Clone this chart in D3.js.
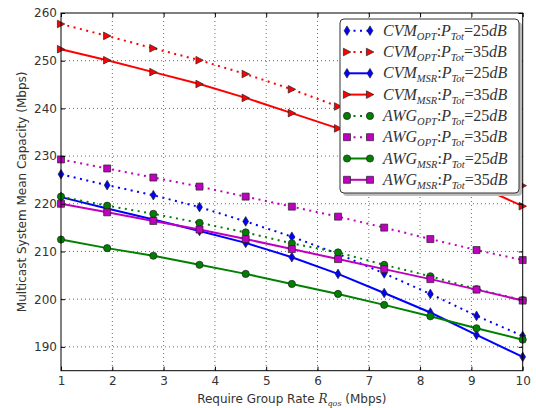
<!DOCTYPE html>
<html>
<head>
<meta charset="utf-8">
<script src="https://cdn.jsdelivr.net/npm/d3@7"></script>
<style>
  html, body { margin: 0; padding: 0; background: #fff; }
  svg { display: block; }
</style>
</head>
<body>
<svg id="chart" width="536" height="408"></svg>
<script>
// Required group rate (Mbps) sampled on the x axis
const rates = [1, 1.9, 2.8, 3.7, 4.6, 5.5, 6.4, 7.3, 8.2, 9.1, 10];

// Mean multicast capacity (Mbps) per scheme
const cvmOpt25 = [226.2, 223.9, 221.8, 219.3, 216.3, 213.1, 209.5, 205.4, 201.1, 196.5, 192.3];
const cvmOpt35 = [257.7, 255.2, 252.6, 250.1, 247.2, 244.0, 240.4, 236.4, 232.3, 228.1, 223.8];
const cvmMsr25 = [221.4, 219.0, 216.7, 214.3, 211.8, 208.8, 205.3, 201.3, 197.2, 192.5, 187.9];
const cvmMsr35 = [252.4, 250.1, 247.6, 245.1, 242.2, 239.0, 235.8, 232.0, 228.0, 223.9, 219.5];
const awgOpt25 = [221.5, 219.6, 217.9, 216.0, 214.0, 211.7, 209.8, 207.2, 204.8, 202.1, 199.8];
const awgOpt35 = [229.3, 227.4, 225.5, 223.6, 221.5, 219.4, 217.3, 215.0, 212.6, 210.3, 208.2];
const awgMsr25 = [212.5, 210.7, 209.1, 207.2, 205.3, 203.2, 201.1, 198.8, 196.4, 193.9, 191.5];
const awgMsr35 = [220.0, 218.2, 216.4, 214.6, 212.6, 210.5, 208.4, 206.3, 204.2, 202.0, 199.7];

const xTicks = [1, 2, 3, 4, 5, 6, 7, 8, 9, 10];
const yTicks = [190, 200, 210, 220, 230, 240, 250, 260];

// Legend label parts: scheme, subscript, power
const series = [
  { values: cvmOpt25, name: "CVM", sub: "OPT", power: "25", color: "#0000ff", dotted: true,  marker: "diamond" },
  { values: cvmOpt35, name: "CVM", sub: "OPT", power: "35", color: "#ff0000", dotted: true,  marker: "triangle" },
  { values: cvmMsr25, name: "CVM", sub: "MSR", power: "25", color: "#0000ff", dotted: false, marker: "diamond" },
  { values: cvmMsr35, name: "CVM", sub: "MSR", power: "35", color: "#ff0000", dotted: false, marker: "triangle" },
  { values: awgOpt25, name: "AWG", sub: "OPT", power: "25", color: "#008000", dotted: true,  marker: "circle" },
  { values: awgOpt35, name: "AWG", sub: "OPT", power: "35", color: "#bf00bf", dotted: true,  marker: "square" },
  { values: awgMsr25, name: "AWG", sub: "MSR", power: "25", color: "#008000", dotted: false, marker: "circle" },
  { values: awgMsr35, name: "AWG", sub: "MSR", power: "35", color: "#bf00bf", dotted: false, marker: "square" }
];

(function draw() {
  const svg = d3.select("#chart");
  const pl = 61, pr = 522.7, pt = 13, pb = 370.7;

  const x = d3.scaleLinear().domain([1, 10]).range([pl, pr]);
  const y = d3.scaleLinear().domain([185, 260]).range([pb, pt]);

  const textColor = "#333";

  // Grid
  const grid = svg.append("g");
  grid.selectAll("line.gx").data(xTicks.slice(1, -1)).join("line")
    .attr("class", "gx")
    .attr("x1", d => x(d)).attr("x2", d => x(d))
    .attr("y1", pt).attr("y2", pb)
    .attr("stroke", "#000").attr("stroke-width", 0.6).attr("stroke-dasharray", "1,3");
  grid.selectAll("line.gy").data(yTicks.filter(d => d < 260)).join("line")
    .attr("class", "gy")
    .attr("x1", pl).attr("x2", pr)
    .attr("y1", d => y(d)).attr("y2", d => y(d))
    .attr("stroke", "#000").attr("stroke-width", 0.6).attr("stroke-dasharray", "1,3");

  // Marker shapes
  function markerPath(kind) {
    switch (kind) {
      case "diamond":  return "M0,-4.8L2.9,0L0,4.8L-2.9,0Z";
      case "triangle": return "M3.8,0L-3.6,-3.8L-3.6,3.8Z";
      case "square":   return "M-3.5,-3.5H3.5V3.5H-3.5Z";
      default:         return d3.symbol(d3.symbolCircle, Math.PI * 3.6 * 3.6)();
    }
  }

  const line = d3.line().x(d => x(d[0])).y(d => y(d[1]));

  const plot = svg.append("g");
  series.forEach(s => {
    const pts = rates.map((r, i) => [r, s.values[i]]);
    const g = plot.append("g");
    g.append("path").datum(pts)
      .attr("d", line)
      .attr("fill", "none")
      .attr("stroke", s.color)
      .attr("stroke-width", 2)
      .attr("stroke-dasharray", s.dotted ? "2,4.5" : null);
    g.selectAll("path.m").data(pts).join("path")
      .attr("class", "m")
      .attr("d", markerPath(s.marker))
      .attr("transform", d => `translate(${x(d[0])},${y(d[1])})`)
      .attr("fill", s.color)
      .attr("stroke", "#222")
      .attr("stroke-width", 0.7);
  });

  // Frame and inward ticks on all four sides
  svg.append("rect")
    .attr("x", pl).attr("y", pt)
    .attr("width", pr - pl).attr("height", pb - pt)
    .attr("fill", "none").attr("stroke", "#000").attr("stroke-width", 1);

  const xAxisB = d3.axisBottom(x).tickValues(xTicks).tickSizeInner(-4).tickSizeOuter(0).tickPadding(6);
  const xAxisT = d3.axisTop(x).tickValues(xTicks).tickSizeInner(-4).tickSizeOuter(0).tickFormat("");
  const yAxisL = d3.axisLeft(y).tickValues(yTicks).tickSizeInner(-4).tickSizeOuter(0).tickPadding(4);
  const yAxisR = d3.axisRight(y).tickValues(yTicks).tickSizeInner(-4).tickSizeOuter(0).tickFormat("");

  function styleAxis(g) {
    g.select(".domain").remove();
    g.selectAll(".tick line").attr("stroke", "#000").attr("stroke-width", 1);
    g.selectAll(".tick text")
      .attr("fill", textColor)
      .style("font-family", "'DejaVu Sans', sans-serif")
      .style("font-size", "12px");
  }
  svg.append("g").attr("transform", `translate(0,${pb})`).call(xAxisB).call(styleAxis);
  svg.append("g").attr("transform", `translate(0,${pt})`).call(xAxisT).call(styleAxis);
  svg.append("g").attr("transform", `translate(${pl},0)`).call(yAxisL).call(styleAxis);
  svg.append("g").attr("transform", `translate(${pr},0)`).call(yAxisR).call(styleAxis);

  // Axis titles
  const xl = svg.append("text")
    .attr("x", (pl + pr) / 2).attr("y", 403)
    .attr("text-anchor", "middle")
    .attr("fill", textColor)
    .style("font-family", "'DejaVu Sans', sans-serif")
    .style("font-size", "12px");
  xl.append("tspan").text("Require Group Rate ");
  xl.append("tspan").text("R").style("font-family", "'DejaVu Serif', serif").style("font-style", "italic");
  xl.append("tspan").text("qos").attr("dy", 3).style("font-size", "8px")
    .style("font-family", "'DejaVu Serif', serif").style("font-style", "italic");
  xl.append("tspan").text(" (Mbps)").attr("dy", -3);

  svg.append("text")
    .attr("transform", `translate(26,${(pt + pb) / 2}) rotate(-90)`)
    .attr("text-anchor", "middle")
    .attr("fill", textColor)
    .style("font-family", "'DejaVu Sans', sans-serif")
    .style("font-size", "12px")
    .text("Multicast System Mean Capacity (Mbps)");

  // Legend
  const lg = svg.append("g");
  const lx = 340, ly = 19, lw = 179, lh = 174;
  lg.append("rect").attr("x", lx + 3).attr("y", ly + 3).attr("width", lw).attr("height", lh)
    .attr("rx", 4).attr("fill", "#bdbdbd");
  lg.append("rect").attr("x", lx).attr("y", ly).attr("width", lw).attr("height", lh)
    .attr("rx", 4).attr("fill", "#fff").attr("stroke", "#333").attr("stroke-width", 1);

  const serif = "'Liberation Serif', 'DejaVu Serif', serif";
  series.forEach((s, i) => {
    const cy = 30.7 + i * 21.3;
    const row = lg.append("g");
    row.append("line")
      .attr("x1", 347).attr("x2", 370).attr("y1", cy).attr("y2", cy)
      .attr("stroke", s.color).attr("stroke-width", 2)
      .attr("stroke-dasharray", s.dotted ? "2,4.5" : null);
    [347, 370].forEach(px => {
      row.append("path").attr("d", markerPath(s.marker))
        .attr("transform", `translate(${px},${cy})`)
        .attr("fill", s.color).attr("stroke", "#222").attr("stroke-width", 0.7);
    });
    const t = row.append("text")
      .attr("x", 383).attr("y", cy + 5)
      .attr("fill", textColor)
      .style("font-family", serif)
      .style("font-size", "16px");
    t.append("tspan").text(s.name).style("font-style", "italic");
    t.append("tspan").text(s.sub).attr("dy", 4).style("font-size", "10.5px").style("font-style", "italic");
    t.append("tspan").text(":").attr("dy", -4);
    t.append("tspan").text("P").style("font-style", "italic");
    t.append("tspan").text("Tot").attr("dy", 4).style("font-size", "10.5px").style("font-style", "italic");
    t.append("tspan").text("=").attr("dy", -4);
    t.append("tspan").text(s.power);
    t.append("tspan").text("dB").style("font-style", "italic");
  });
})();
</script>
</body>
</html>
